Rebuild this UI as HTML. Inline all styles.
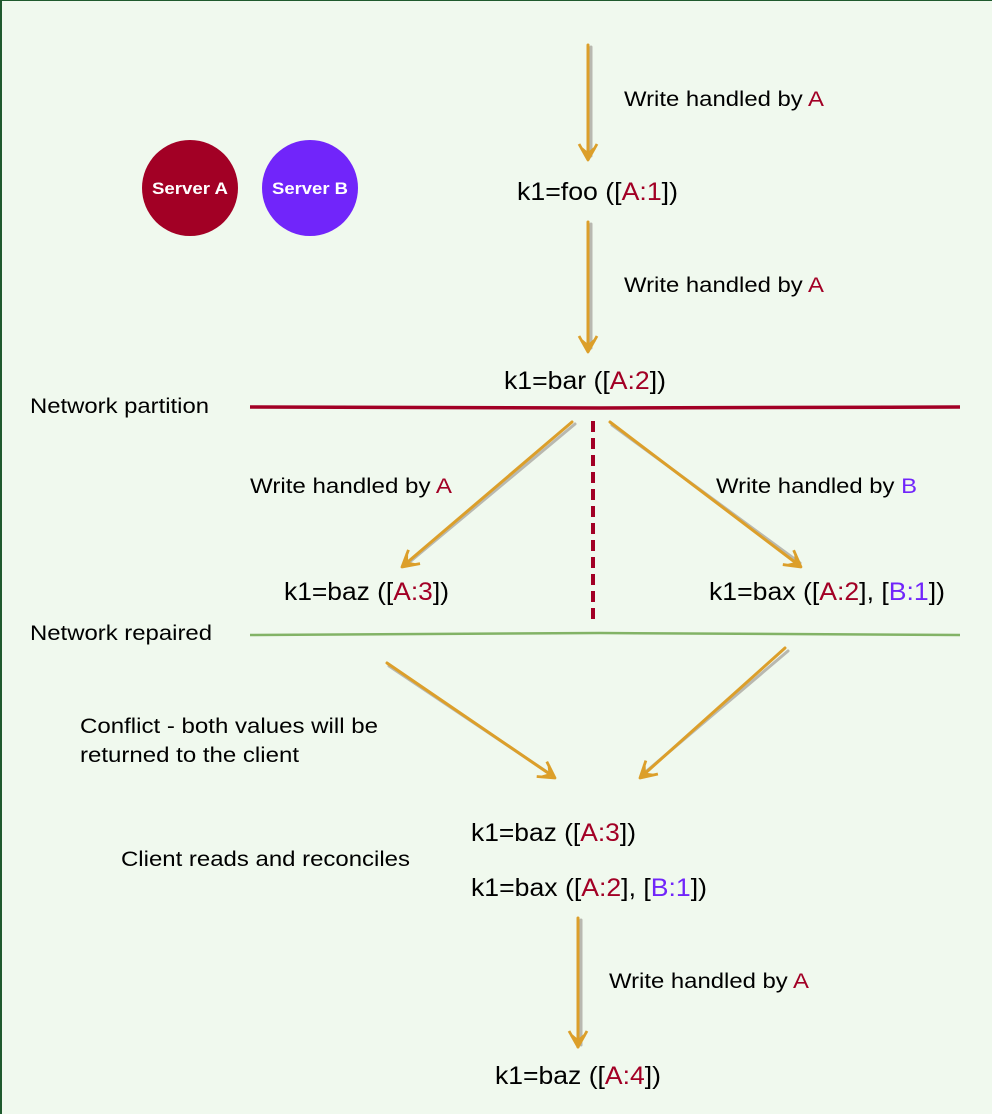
<!DOCTYPE html>
<html><head><meta charset="utf-8"><style>
html,body{margin:0;padding:0;background:#f0f9ee;}
svg{display:block;}
text{font-family:"Liberation Sans",Arial,sans-serif;fill:#000;}
.r{fill:#a20025}.p{fill:#7125fa}
</style></head><body>
<svg width="992" height="1114" viewBox="0 0 992 1114" xmlns="http://www.w3.org/2000/svg">
<rect x="0" y="0" width="992" height="1114" fill="#f0f9ee"/>
<line x1="1" y1="0" x2="1" y2="1114" stroke="#1f5a2e" stroke-width="2"/>
<line x1="0" y1="0.5" x2="992" y2="0.5" stroke="#1f5a2e" stroke-width="1"/>
<defs>
<g id="ah"><path d="M-9,-16 L0,0 L9,-16 M-7,-12 L0,-6 L7,-12" fill="none" stroke="#dc9f2a" stroke-width="2.8" stroke-linejoin="round"/></g>
</defs>
<g stroke-linecap="round">
<g stroke="#b8b8b0" stroke-width="3">
<line x1="591" y1="47" x2="591" y2="156"/>
<line x1="591" y1="224" x2="591" y2="348"/>
<line x1="575" y1="424" x2="406" y2="565"/>
<line x1="612" y1="425" x2="800" y2="563"/>
<line x1="389" y1="666" x2="553" y2="776"/>
<line x1="788" y1="651" x2="642" y2="775"/>
<line x1="581" y1="920" x2="581" y2="1045"/>
</g>
<g stroke="#dc9f2a" stroke-width="3">
<line x1="588" y1="45" x2="588" y2="158"/>
<line x1="588" y1="222" x2="588" y2="350"/>
<line x1="572" y1="422" x2="403" y2="566"/>
<line x1="610" y1="422" x2="800" y2="566"/>
<line x1="387" y1="663" x2="554" y2="777"/>
<line x1="785" y1="648" x2="641" y2="777"/>
<line x1="578" y1="918" x2="578" y2="1047"/>
</g>
</g>
<use href="#ah" transform="translate(588,160)"/>
<use href="#ah" transform="translate(588,352)"/>
<use href="#ah" transform="translate(402,567) rotate(50)"/>
<use href="#ah" transform="translate(801,567) rotate(-53)"/>
<use href="#ah" transform="translate(555,778) rotate(-56)"/>
<use href="#ah" transform="translate(640,778) rotate(48)"/>
<use href="#ah" transform="translate(578,1047)"/>
<path d="M250,407 L600,408 L960,407" stroke="#a20025" stroke-width="3.5" fill="none"/>
<path d="M250,635 L600,633 L960,635" stroke="#82b366" stroke-width="2.5" fill="none"/>
<line x1="593" y1="421" x2="593" y2="623" stroke="#a20025" stroke-width="4" stroke-dasharray="11,6"/>
<circle cx="190" cy="188" r="48" fill="#a20025"/>
<circle cx="310" cy="188" r="48" fill="#7125fa"/>
<text x="152" y="194" font-size="17" font-weight="bold" textLength="76" lengthAdjust="spacingAndGlyphs" style="fill:#fff">Server A</text>
<text x="272" y="194" font-size="17" font-weight="bold" textLength="76" lengthAdjust="spacingAndGlyphs" style="fill:#fff">Server B</text>
<g font-size="21">
<text x="624" y="106" textLength="200" lengthAdjust="spacingAndGlyphs">Write handled by <tspan class="r">A</tspan></text>
<text x="624" y="292" textLength="200" lengthAdjust="spacingAndGlyphs">Write handled by <tspan class="r">A</tspan></text>
<text x="250" y="493" textLength="202" lengthAdjust="spacingAndGlyphs">Write handled by <tspan class="r">A</tspan></text>
<text x="716" y="493" textLength="201" lengthAdjust="spacingAndGlyphs">Write handled by <tspan class="p">B</tspan></text>
<text x="609" y="988" textLength="200" lengthAdjust="spacingAndGlyphs">Write handled by <tspan class="r">A</tspan></text>
<text x="30" y="413" textLength="179" lengthAdjust="spacingAndGlyphs">Network partition</text>
<text x="30" y="640" textLength="182" lengthAdjust="spacingAndGlyphs">Network repaired</text>
<text x="80" y="733" textLength="298" lengthAdjust="spacingAndGlyphs">Conflict - both values will be</text>
<text x="80" y="762" textLength="219" lengthAdjust="spacingAndGlyphs">returned to the client</text>
<text x="121" y="866" textLength="289" lengthAdjust="spacingAndGlyphs">Client reads and reconciles</text>
</g>
<g font-size="25">
<text x="517" y="200" textLength="161" lengthAdjust="spacingAndGlyphs">k1=foo ([<tspan class="r">A:1</tspan>])</text>
<text x="504" y="389" textLength="162" lengthAdjust="spacingAndGlyphs">k1=bar ([<tspan class="r">A:2</tspan>])</text>
<text x="284" y="600" textLength="165" lengthAdjust="spacingAndGlyphs">k1=baz ([<tspan class="r">A:3</tspan>])</text>
<text x="709" y="600" textLength="236" lengthAdjust="spacingAndGlyphs">k1=bax ([<tspan class="r">A:2</tspan>], [<tspan class="p">B:1</tspan>])</text>
<text x="471" y="841" textLength="165" lengthAdjust="spacingAndGlyphs">k1=baz ([<tspan class="r">A:3</tspan>])</text>
<text x="471" y="896" textLength="236" lengthAdjust="spacingAndGlyphs">k1=bax ([<tspan class="r">A:2</tspan>], [<tspan class="p">B:1</tspan>])</text>
<text x="495" y="1084" textLength="166" lengthAdjust="spacingAndGlyphs">k1=baz ([<tspan class="r">A:4</tspan>])</text>
</g>
</svg>
</body></html>
